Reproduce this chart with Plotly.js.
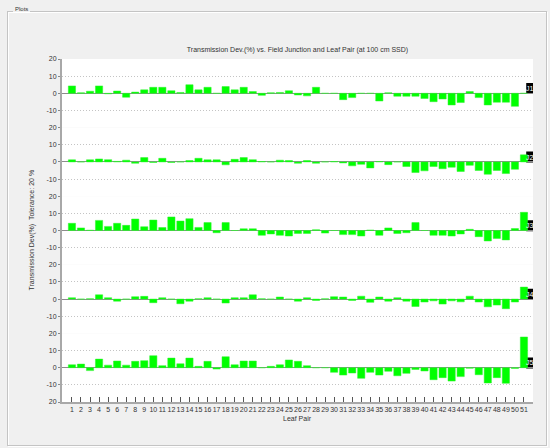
<!DOCTYPE html>
<html>
<head>
<meta charset="utf-8">
<script src="https://cdn.plot.ly/plotly-3.0.1.min.js"></script>
<style>
  html, body { margin:0; padding:0; background:#f0f0f0; }
  #wrap { position:relative; width:550px; height:448px; overflow:hidden; background:#f0f0f0; }
  #frame { position:absolute; left:7px; top:11px; width:538px; height:433px;
           border:1px solid #c4c4c4; box-shadow: inset 1px 1px 0 #ffffff, 1px 1px 0 #ffffff; }
  #framelabel { position:absolute; left:13px; top:6px; padding:0 2px; background:#f0f0f0;
           font:6px "Liberation Sans", Arial, sans-serif; color:#333; }
  #chart { position:absolute; left:0; top:0; width:550px; height:448px; }
</style>
</head>
<body>
<div id="wrap">
  <div id="frame"></div>
  <div id="framelabel">Plots</div>
  <div id="chart"></div>
</div>
<script>
// Leaf pair numbers
const leafPairs = Array.from({length: 51}, (_, i) => i + 1);
// Junction labels
const junctions = ["J1", "J2", "J3", "J4", "J5"];
// Transmission deviation (%) per junction, leaf pairs 1..51
const j1 = [4.3,0.3,1.2,4.3,-0.3,1.3,-2.3,0.7,2.0,3.5,3.5,1.5,0.5,5.0,2.0,3.5,0.0,3.9,2.0,3.5,1.0,-1.2,0.3,0.5,1.5,-1.0,-1.5,3.5,0.0,0.0,-3.7,-2.5,0.0,0.0,-4.5,0.3,-1.7,-1.7,-1.7,-3.0,-4.9,-3.3,-6.8,-5.4,1.0,-2.5,-6.8,-5.2,-5.2,-7.6,0.0];
const j2 = [1.2,0.0,1.2,1.7,1.3,0.3,1.0,-0.8,2.5,-0.3,2.1,-0.3,0.0,0.8,2.1,1.2,1.2,-1.7,1.5,2.5,1.3,0.2,0.0,1.0,0.8,-0.8,0.8,-0.8,0.0,0.2,-0.6,-2.3,-1.4,-3.5,0.2,-1.6,0.0,-2.7,-6.2,-5.2,-2.7,-4.0,-3.1,-5.6,-2.0,-5.0,-7.2,-5.0,-6.8,-4.3,4.1];
const j3 = [4.2,1.5,0.2,5.9,2.4,4.2,3.0,6.7,2.2,6.1,1.7,7.9,5.5,6.9,1.8,4.6,-1.3,4.6,0.0,1.0,1.0,-2.8,-2.0,-2.8,-3.2,-1.7,-1.7,0.5,-1.5,0.0,-2.4,-2.4,-3.2,0.3,-2.8,1.5,-1.7,-1.3,4.6,0.0,-2.8,-2.8,-3.2,-2.0,0.7,-3.6,-6.1,-4.6,-5.5,1.1,10.6];
const j4 = [0.8,0.0,0.2,2.5,0.8,-1.2,0.0,1.4,1.6,-2.1,0.8,0.0,-2.7,-1.2,0.2,0.8,0.0,-2.3,0.8,0.8,2.5,0.2,0.0,1.2,0.0,-1.2,0.8,-0.8,0.2,1.4,1.2,-0.8,1.7,-1.9,1.2,-1.2,0.8,-1.2,-4.3,-1.7,-1.0,-2.9,-1.0,-1.6,1.7,-1.7,-4.5,-3.5,-5.6,-1.7,7.0];
const j5 = [1.7,2.1,-1.7,5.0,1.5,3.9,1.5,3.7,4.1,7.0,1.2,5.6,2.3,5.6,0.8,3.7,-0.8,6.4,1.7,3.9,3.9,0.0,0.8,1.7,4.5,3.7,1.2,0.0,0.0,-2.7,-4.3,-3.1,-6.2,-2.7,-4.3,-2.1,-4.7,-3.3,-1.0,-1.9,-7.0,-5.8,-7.8,-5.2,-0.3,-4.1,-8.9,-5.8,-9.1,-0.4,17.9];
// Y tick values / labels per band
const yTickVals = [20, 10, 0, -10];
const yTickText = ["20", "10", "0", "-10"];
const yTickValsBottom = [20, 10, 0, -10, -20];
const yTickTextBottom = ["20", "10", "0", "-10", "20"];

const series = [j1, j2, j3, j4, j5];
const FONT = '"Liberation Sans", Arial, sans-serif';

const traces = series.map((vals, k) => ({
  type: 'bar',
  x: leafPairs,
  y: vals,
  xaxis: 'x',
  yaxis: k === 0 ? 'y' : 'y' + (k + 1),
  width: 0.8,
  marker: { color: '#00ff00', line: { color: '#30f030', width: 0.5 } },
  hoverinfo: 'x+y',
  showlegend: false
}));

const layout = {
  width: 550, height: 448,
  margin: { l: 62, r: 17, t: 59, b: 46, pad: 0 },
  paper_bgcolor: 'rgba(0,0,0,0)',
  plot_bgcolor: '#ffffff',
  showlegend: false,
  bargap: 0.2,
  font: { family: FONT, size: 7, color: '#333333' },
  title: {
    text: 'Transmission Dev.(%) vs. Field Junction and Leaf Pair (at 100 cm SSD)',
    font: { family: FONT, size: 7, color: '#333333' },
    x: 0.5, xref: 'paper', xanchor: 'center',
    y: 1 - 50 / 448, yref: 'container', yanchor: 'middle'
  },
  xaxis: {
    range: [-0.1, 52.0],
    anchor: 'y5',
    tickvals: leafPairs,
    ticktext: leafPairs.map(String),
    tickangle: 0,
    ticks: 'inside', ticklen: 5, tickcolor: '#555555', tickwidth: 1,
    tickfont: { family: FONT, size: 7, color: '#333333' },
    showgrid: false, zeroline: false,
    showline: true, linecolor: '#a8a8a8', linewidth: 2,
    fixedrange: true
  },
  shapes: [],
  annotations: [
    {
      text: 'Transmission Dev(%)  Tolerance: 20 %',
      xref: 'paper', yref: 'paper',
      x: -31 / 471, y: 0.5, xanchor: 'center', yanchor: 'middle',
      textangle: -90, showarrow: false,
      font: { family: FONT, size: 7, color: '#333333' }
    },
    {
      text: 'Leaf Pair',
      xref: 'paper', yref: 'paper',
      x: 0.5, y: -17 / 343, xanchor: 'center', yanchor: 'middle',
      showarrow: false,
      font: { family: FONT, size: 7, color: '#333333' }
    }
  ]
};

for (let k = 0; k < 5; k++) {
  const name = k === 0 ? 'yaxis' : 'yaxis' + (k + 1);
  const top = 1 - k * 0.2;
  layout[name] = {
    domain: [top - 0.2, top],
    range: [-20, 20],
    anchor: 'x',
    tickvals: k === 4 ? yTickValsBottom : yTickVals,
    ticktext: k === 4 ? yTickTextBottom : yTickText,
    ticks: 'outside', ticklen: 2, tickcolor: '#888888',
    tickfont: { family: FONT, size: 7, color: '#333333' },
    showgrid: true, gridcolor: '#c4c4c4', griddash: '1px,2px', gridwidth: 1,
    zeroline: true, zerolinecolor: '#8c8c8c', zerolinewidth: 1,
    showline: true, linecolor: '#a8a8a8', linewidth: 2,
    fixedrange: true
  };
  const yref = k === 0 ? 'y' : 'y' + (k + 1);
  layout.shapes.push({
    type: 'rect', xref: 'x', yref: yref,
    x0: 51.25, x1: 52.1, y0: -0.4, y1: 6.0,
    fillcolor: '#000000', line: { width: 0 }, layer: 'below'
  });
  layout.annotations.push({
    text: junctions[k], xref: 'x', yref: yref,
    x: 51.62, y: 2.8, xanchor: 'center', yanchor: 'middle',
    showarrow: false,
    font: { family: FONT, size: 7, color: '#ffffff' }
  });
}

Plotly.newPlot('chart', traces, layout, { displayModeBar: false, staticPlot: true });
</script>
</body>
</html>
